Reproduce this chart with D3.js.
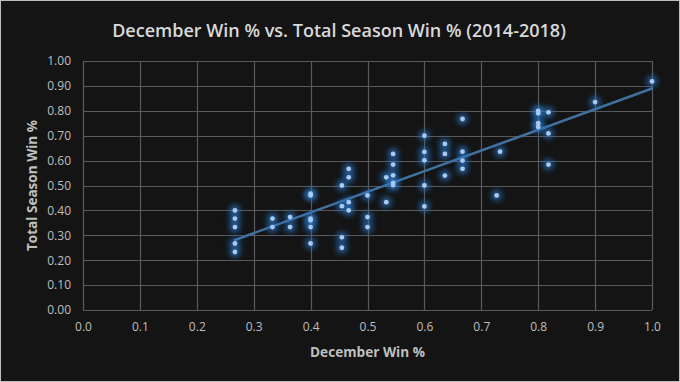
<!DOCTYPE html>
<html><head><meta charset="utf-8">
<script src="https://cdn.jsdelivr.net/npm/d3@7"></script>
<style>
html,body{margin:0;padding:0;background:#141414;}
svg{display:block;}
</style></head>
<body>
<script>
const title = "December Win % vs. Total Season Win % (2014-2018)";
const xLabel = "December Win %";
const yLabel = "Total Season Win %";
const xTicks = [0,0.1,0.2,0.3,0.4,0.5,0.6,0.7,0.8,0.9,1.0];
const yTicks = [0,0.1,0.2,0.3,0.4,0.5,0.6,0.7,0.8,0.9,1.0];
// December win % per team-season
const decWin = [
  0.267,0.267,0.267,0.267,0.267,
  0.333,0.333,
  0.364,0.364,
  0.400,0.400,0.400,0.400,0.400,0.400,
  0.455,0.455,0.455,0.455,
  0.467,0.467,0.467,0.467,
  0.500,0.500,0.500,
  0.533,0.533,
  0.545,0.545,0.545,0.545,0.545,
  0.600,0.600,0.600,0.600,0.600,
  0.636,0.636,0.636,
  0.667,0.667,0.667,0.667,
  0.727,
  0.733,
  0.800,0.800,0.800,0.800,
  0.818,0.818,0.818,
  0.900,
  1.000
];
// total season win % per team-season
const seasonWin = [
  0.400,0.367,0.333,0.267,0.233,
  0.367,0.333,
  0.373,0.333,
  0.467,0.460,0.367,0.360,0.333,0.267,
  0.500,0.417,0.292,0.250,
  0.567,0.533,0.433,0.400,
  0.460,0.373,0.333,
  0.533,0.433,
  0.627,0.584,0.541,0.510,0.502,
  0.700,0.635,0.601,0.500,0.416,
  0.667,0.627,0.540,
  0.767,0.636,0.600,0.567,
  0.460,
  0.636,
  0.800,0.790,0.750,0.735,
  0.794,0.709,0.584,
  0.835,
  0.918
];

const W = 680, H = 382;
const m = {left:83, right:28, top:61, bottom:72};
const svg = d3.select("body").append("svg").attr("width",W).attr("height",H);
svg.append("rect").attr("x",0.5).attr("y",0.5).attr("width",W-1).attr("height",H-1)
  .attr("fill","#141414").attr("stroke","#bdbdbd").attr("stroke-width",1);

const defs = svg.append("defs");
const f = defs.append("filter").attr("id","glow").attr("x","-200%").attr("y","-200%").attr("width","500%").attr("height","500%");
f.append("feGaussianBlur").attr("stdDeviation",3);

const x = d3.scaleLinear().domain([0,1]).range([m.left, W-m.right]);
const y = d3.scaleLinear().domain([0,1]).range([H-m.bottom, m.top]);

const grid = svg.append("g");
grid.selectAll(".gx").data(xTicks).join("line")
  .attr("x1",d=>Math.round(x(d))+0.5).attr("x2",d=>Math.round(x(d))+0.5)
  .attr("y1",y(0)).attr("y2",y(1)).attr("stroke","#595959").attr("stroke-width",1.2);
grid.selectAll(".gy").data(yTicks).join("line")
  .attr("y1",d=>Math.round(y(d))+0.5).attr("y2",d=>Math.round(y(d))+0.5)
  .attr("x1",x(0)).attr("x2",x(1)).attr("stroke","#595959").attr("stroke-width",1.2);

const xAxis = svg.append("g").attr("transform",`translate(0,${y(0)})`)
  .call(d3.axisBottom(x).tickValues(xTicks).tickFormat(d3.format(".1f")).tickSize(0).tickPadding(12));
const yAxis = svg.append("g").attr("transform",`translate(${x(0)},0)`)
  .call(d3.axisLeft(y).tickValues(yTicks).tickFormat(d3.format(".2f")).tickSize(0).tickPadding(12));
[xAxis,yAxis].forEach(a=>{
  a.select(".domain").remove();
  a.selectAll("text").attr("fill","#bfbfbf").style("font-family","'Open Sans'").style("font-size","12px");
});

const pts = decWin.map((d,i)=>({x:d,y:seasonWin[i]}));

// regression trendline
const mx = d3.mean(pts,p=>p.x), my = d3.mean(pts,p=>p.y);
const slope = d3.sum(pts,p=>(p.x-mx)*(p.y-my))/d3.sum(pts,p=>(p.x-mx)**2);
const icpt = my - slope*mx;
const [x0,x1] = d3.extent(pts,p=>p.x);
svg.append("line").attr("x1",x(x0)).attr("y1",y(icpt+slope*x0))
  .attr("x2",x(x1)).attr("y2",y(icpt+slope*x1))
  .attr("stroke","#41709f").attr("stroke-width",2.5).attr("stroke-linecap","round");

const g = svg.append("g");
g.selectAll(".glow").data(pts).join("circle")
  .attr("cx",p=>x(p.x)).attr("cy",p=>y(p.y)).attr("r",4.8)
  .attr("fill","#2a78cc").attr("opacity",0.95).attr("filter","url(#glow)");
g.selectAll(".dot").data(pts).join("circle")
  .attr("cx",p=>x(p.x)).attr("cy",p=>y(p.y)).attr("r",2.4)
  .attr("fill","#a9c9ee");

function fit(sel, target){
  const w = sel.node().getComputedTextLength();
  const fs = parseFloat(sel.style("font-size"));
  sel.style("font-size",(fs*target/w).toFixed(2)+"px");
}
const t = svg.append("text").attr("x",339).attr("y",37).attr("text-anchor","middle")
  .attr("fill","#d9d9d9").style("font-family","'Open Sans'").style("font-weight","600")
  .style("font-size","17px").text(title);
fit(t,454);
const xl = svg.append("text").attr("x",(x(0)+x(1))/2).attr("y",357).attr("text-anchor","middle")
  .attr("fill","#bfbfbf").style("font-family","'Open Sans'").style("font-weight","700")
  .style("font-size","13px").text(xLabel);
fit(xl,115);
const yl = svg.append("text").attr("transform",`translate(37,${(y(0)+y(1))/2}) rotate(-90)`)
  .attr("text-anchor","middle")
  .attr("fill","#bfbfbf").style("font-family","'Open Sans'").style("font-weight","700")
  .style("font-size","13px").text(yLabel);
fit(yl,131);
</script>
</body></html>
